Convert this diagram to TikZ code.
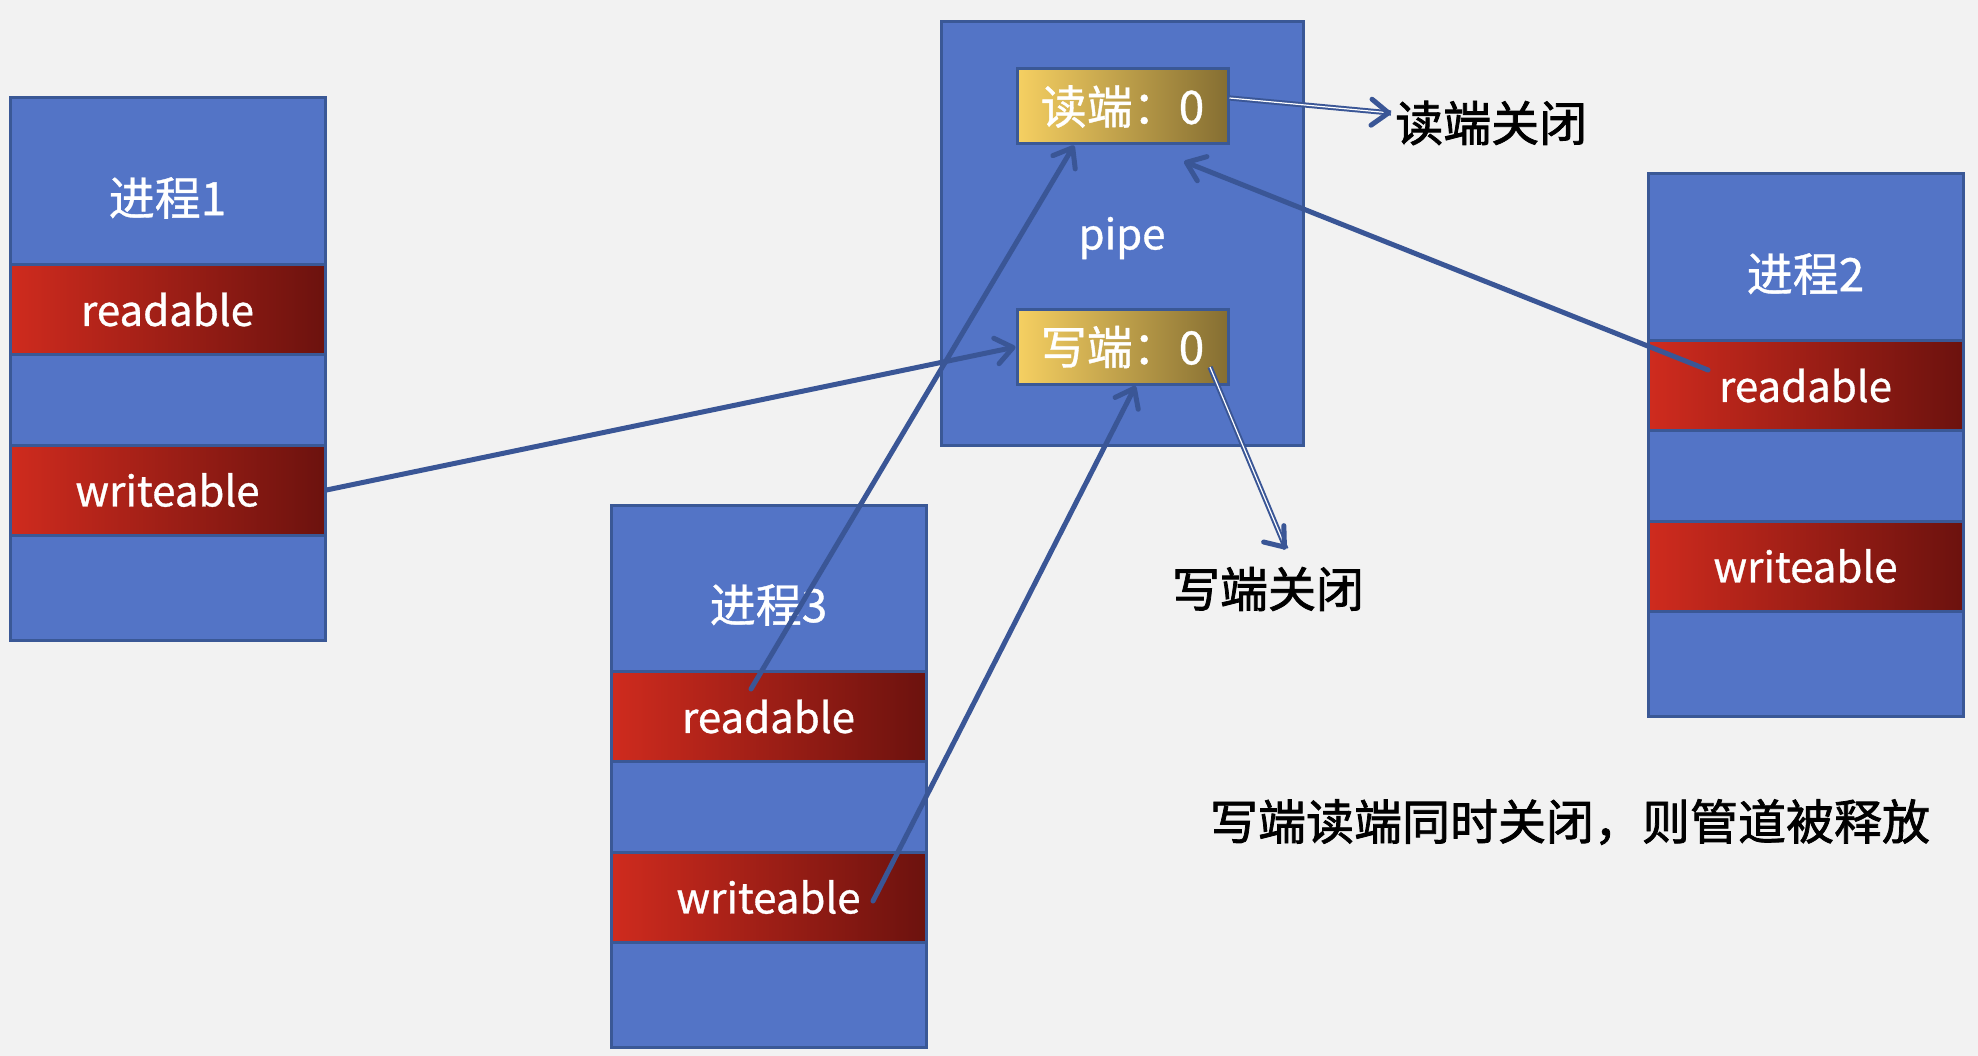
\documentclass[tikz,border=0pt]{standalone}
\usepackage{fontspec}
\setmainfont{Noto Sans CJK SC}
\newfontfamily\heavy{Noto Sans CJK SC}[FakeBold=1.6]
\newfontfamily\semi{Noto Sans CJK SC}[FakeBold=0.8]
\usetikzlibrary{arrows.meta,calc}
\definecolor{bg}{RGB}{242,242,242}
\definecolor{boxblue}{RGB}{83,116,198}
\definecolor{edgeblue}{RGB}{58,88,150}
\definecolor{redL}{RGB}{207,43,30}
\definecolor{redR}{RGB}{108,18,14}
\definecolor{goldL}{RGB}{246,208,98}
\definecolor{goldR}{RGB}{133,110,50}
\definecolor{arrowblue}{RGB}{58,86,150}
\tikzset{
  procbox/.style={draw=edgeblue, line width=3pt, fill=boxblue, minimum width=315pt, minimum height=542pt, inner sep=0pt},
  pipebox/.style={draw=edgeblue, line width=3pt, fill=boxblue, minimum width=362pt, minimum height=423pt, inner sep=0pt},
  slot/.style={draw=edgeblue, line width=3pt, left color=redL, right color=redR, minimum width=315pt, minimum height=90pt, inner sep=0pt, text=white, font=\semi\fontsize{42}{48}\selectfont},
  endbox/.style={draw=edgeblue, line width=3pt, left color=goldL, right color=goldR, minimum width=211pt, minimum height=75pt, inner sep=0pt, text=white, font=\semi\fontsize{46}{52}\selectfont},
  title/.style={text=white, inner sep=0pt, font=\semi\fontsize{46}{52}\selectfont},
  latin/.style={text=white, inner sep=0pt, font=\semi\fontsize{42}{48}\selectfont},
  note/.style={text=black, inner sep=0pt, font=\heavy\fontsize{48}{54}\selectfont},
  link/.style={draw=arrowblue, line width=5pt, line cap=round, -{Straight Barb[round, length=17pt, width=26pt]}},
  dbl/.style={draw=arrowblue, double=white, double distance=1.2pt, line width=2pt}
}
\begin{document}
\begin{tikzpicture}[x=1pt,y=-1pt]
\fill[bg] (0,0) rectangle (1978,1056);
\useasboundingbox (0,0) rectangle (1978,1056);

% process 1
\node[procbox] (p1) at (167.5,369) {};
\node[slot] (r1) at (167.5,309.5) {readable};
\node[slot] (w1) at (167.5,490) {writeable};
\node[title] (t1) at (167.5,198) {进程1};

% process 2
\node[procbox] (p2) at (1805.5,445) {};
\node[slot] (r2) at (1805.5,385.5) {readable};
\node[slot] (w2) at (1805.5,566) {writeable};
\node[title] (t2) at (1805.5,274) {进程2};

% process 3
\node[procbox] (p3) at (768.5,776) {};
\node[slot] (r3) at (768.5,716.5) {readable};
\node[slot] (w3) at (768.5,897) {writeable};
\node[title] (t3) at (768.5,605) {进程3};

% pipe
\node[pipebox] (pipe) at (1122,233.5) {};
\node[endbox] (rd) at (1122.5,106.5) {读端：0};
\node[endbox] (wr) at (1122.5,347) {写端：0};
\node[latin] (pl) at (1122,238) {pipe};

% notes
\node[note, anchor=west] (rc) at (1395,123) {读端关闭};
\node[note] (wc) at (1268,589) {写端关闭};
\node[note] (msg) at (1570,822) {写端读端同时关闭，则管道被释放};

\coordinate (rcend) at (1391,113);
\coordinate (wcend) at (1286,549);

% connectors
\draw[link] (w1.east) -- (wr.west);
\draw[link] ($(r3.center)+(-17.5,-27.5)$) -- ($(rd.south)+(-48.5,0)$);
\draw[link] ($(w3.center)+(104.5,4)$) -- ($(wr.south)+(13,0)$);
\draw[link] ($(r2.center)+(-97.5,-15.5)$) -- ($(rd.south)+(61.5,16)$);
\draw[dbl] ($(rd.east)+(0,-8.5)$) -- (rcend);
\draw[link] ($(rcend)!4pt!(rd.east)$) -- (rcend);
\draw[dbl] ($(wr.center)+(87.5,20)$) -- (wcend);
\draw[link] ($(wcend)!4pt!(wr.center)$) -- (wcend);
\end{tikzpicture}
\end{document}
